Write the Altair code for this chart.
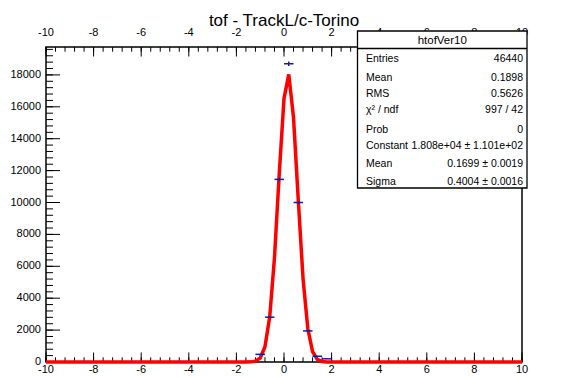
import altair as alt
import pandas as pd
import numpy as np

# ---- data ----
bin_centers = [-1.0, -0.6, -0.2, 0.2, 0.6, 1.0, 1.4, 1.8]
bin_counts = [480, 2810, 11450, 18700, 10000, 1950, 360, 200]
bin_half_width = 0.2

fit_x = [-10, -2.0, -1.8, -1.6, -1.4, -1.2, -1.0, -0.8, -0.6, -0.4, -0.2, 0.0,
         0.2, 0.4, 0.6, 0.8, 1.0, 1.2, 1.4, 1.6, 1.8, 2.0, 10]
fit_y = [0, 0, 0, 1, 8, 51, 251, 956, 2835, 6550, 11790, 16520,
         18030, 15325, 10145, 5230, 2100, 656, 160, 30, 4, 0, 0]

x_major = [-10, -8, -6, -4, -2, 0, 2, 4, 6, 8, 10]
y_major = [0, 2000, 4000, 6000, 8000, 10000, 12000, 14000, 16000, 18000]
x_minor = [round(-10 + 0.4 * i, 2) for i in range(51)]
y_minor = [400 * i for i in range(50)]

title_text = "tof - TrackL/c-Torino"
stats_name = "htofVer10"
stats_labels = ["Entries", "Mean", "RMS", "\u03c7\u00b2 / ndf", "Prob", "Constant", "Mean", "Sigma"]
stats_values = ["46440", "0.1898", "0.5626", "997 / 42", "0",
                "1.808e+04 \u00b1 1.101e+02", "0.1699 \u00b1 0.0019", "0.4004 \u00b1 0.0016"]

# ---- layout ----
W, H = 476, 315
FONT = "Liberation Sans"
xs = alt.Scale(domain=[-10, 10], nice=False, zero=False)
ys = alt.Scale(domain=[0, 19750], nice=False, zero=False)

hist = pd.DataFrame({"c": bin_centers, "n": bin_counts})
fit = pd.DataFrame({"x": fit_x, "y": fit_y})
one = pd.DataFrame({"a": [0]})

layers = []

# ticks (inward, ROOT style)
def xticks(vals, length, top):
    d = pd.DataFrame({"v": vals})
    y0 = 0 if top else H
    y1 = length if top else H - length
    return alt.Chart(d).mark_rule(color="black", strokeWidth=1).encode(
        x=alt.X("v:Q", scale=xs, axis=None),
        y=alt.value(y0), y2=alt.value(y1))

def yticks(vals, length):
    d = pd.DataFrame({"v": vals})
    return alt.Chart(d).mark_rule(color="black", strokeWidth=1).encode(
        y=alt.Y("v:Q", scale=ys, axis=None),
        x=alt.value(0), x2=alt.value(length))

layers += [xticks(x_major, 9.5, False), xticks(x_minor, 4.7, False),
           xticks(x_major, 9.5, True), xticks(x_minor, 4.7, True),
           yticks(y_major, 14), yticks(y_minor, 7)]

# tick labels
xl = pd.DataFrame({"v": x_major, "t": [str(v) for v in x_major]})
layers.append(alt.Chart(xl).mark_text(font=FONT, fontSize=11, baseline="middle", align="center").encode(
    x=alt.X("v:Q", scale=xs, axis=None), y=alt.value(H + 8), text="t:N"))
layers.append(alt.Chart(xl).mark_text(font=FONT, fontSize=11, baseline="middle", align="center").encode(
    x=alt.X("v:Q", scale=xs, axis=None), y=alt.value(-14), text="t:N"))
yl = pd.DataFrame({"v": y_major, "t": [str(v) for v in y_major]})
layers.append(alt.Chart(yl).mark_text(font=FONT, fontSize=11, baseline="middle", align="right").encode(
    y=alt.Y("v:Q", scale=ys, axis=None), x=alt.value(-5), text="t:N"))

# fit curve
layers.append(alt.Chart(fit).mark_line(color="#ff0000", strokeWidth=3.5, clip=False).encode(
    x=alt.X("x:Q", scale=xs, axis=None), y=alt.Y("y:Q", scale=ys, axis=None)))

# histogram crosses
base = alt.Chart(hist).transform_calculate(
    lo=f"datum.c - {bin_half_width}", hi=f"datum.c + {bin_half_width}",
    elo="datum.n - sqrt(datum.n)", ehi="datum.n + sqrt(datum.n)")
layers.append(base.mark_rule(color="#1c1c96", strokeWidth=1.5).encode(
    x=alt.X("lo:Q", scale=xs, axis=None), x2="hi:Q", y=alt.Y("n:Q", scale=ys, axis=None)))
layers.append(base.mark_rule(color="#1c1c96", strokeWidth=1.5).encode(
    x=alt.X("c:Q", scale=xs, axis=None), y=alt.Y("elo:Q", scale=ys, axis=None), y2="ehi:Q"))

# title
layers.append(alt.Chart(one).mark_text(font=FONT, fontSize=17, align="center", baseline="alphabetic",
                                       text=title_text).encode(
    x=alt.value(238), y=alt.value(-21)))

# stats box
bx0, bx1, by0, by1 = 311.5, 481, -16, 141
layers.append(alt.Chart(one).mark_rect(fill="white", stroke="black", strokeWidth=1.3).encode(
    x=alt.value(bx0), x2=alt.value(bx1), y=alt.value(by0), y2=alt.value(by1)))
layers.append(alt.Chart(one).mark_rule(color="black", strokeWidth=1.3).encode(
    x=alt.value(bx0), x2=alt.value(bx1), y=alt.value(1.5)))
layers.append(alt.Chart(one).mark_text(font=FONT, fontSize=11.5, align="center", baseline="middle",
                                       text=stats_name).encode(
    x=alt.value((bx0 + bx1) / 2), y=alt.value(-6)))
row_y = [12, 31, 47, 63, 83, 99, 117, 135]
for lab, val, ry in zip(stats_labels, stats_values, row_y):
    layers.append(alt.Chart(one).mark_text(font=FONT, fontSize=10.5, align="left", baseline="middle",
                                           text=lab).encode(x=alt.value(320), y=alt.value(ry)))
    layers.append(alt.Chart(one).mark_text(font=FONT, fontSize=10.5, align="right", baseline="middle",
                                           text=val).encode(x=alt.value(477), y=alt.value(ry)))

chart = alt.layer(*layers).properties(
    width=W, height=H,
    autosize=alt.AutoSizeParams(type="none"),
    padding={"left": 46, "top": 47, "right": 48, "bottom": 16},
    background="white",
).configure_view(stroke="black", strokeWidth=1.5)

chart.save("out.html", embed_options={"renderer": "svg", "actions": False})
